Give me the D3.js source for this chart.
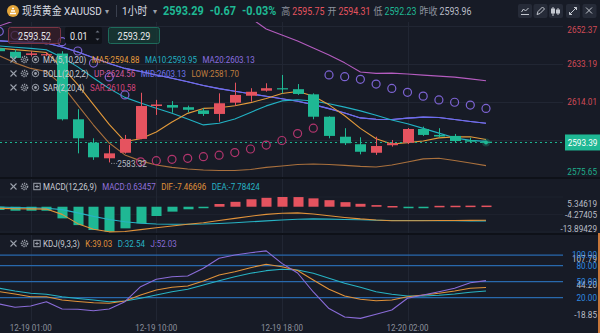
<!DOCTYPE html>
<html>
<head>
<meta charset="utf-8">
<script src="https://cdn.jsdelivr.net/npm/d3@7/dist/d3.min.js"></script>
<style>
  html, body { margin:0; padding:0; background:#171b26; overflow:hidden; }
  svg { display:block; }
  text { font-family: Roboto, "Noto Sans CJK SC", "Noto Sans", sans-serif; }
</style>
</head>
<body>
<svg id="chart" width="600" height="333"></svg>
<script>
// ---- hourly bars, XAUUSD ----
const times = ["12-18 23:00","12-19 00:00","12-19 01:00","12-19 02:00","12-19 03:00","12-19 04:00","12-19 05:00",
  "12-19 07:00","12-19 08:00","12-19 09:00","12-19 10:00","12-19 11:00","12-19 12:00","12-19 13:00","12-19 14:00",
  "12-19 15:00","12-19 16:00","12-19 17:00","12-19 18:00","12-19 19:00","12-19 20:00","12-19 21:00","12-19 22:00",
  "12-19 23:00","12-20 00:00","12-20 01:00","12-20 02:00","12-20 03:00","12-20 04:00","12-20 05:00","12-20 07:00","12-20 08:00"];
const timeTicks = ["12-19 01:00","12-19 10:00","12-19 18:00","12-20 02:00"];

const open  = [2641.0,2639.2,2637.6,2637.7,2638.3,2605.1,2593.3,2585.4,2588.2,2595.2,2611.8,2612.3,2611.2,2609.6,2607.8,2613.5,2617.0,2619.55,2620.8,2620.3,2617.7,2606.4,2596.3,2592.5,2588.2,2592.0,2593.3,2600.2,2597.2,2596.7,2594.5,2593.8];
const high  = [2642.5,2640.5,2639.5,2639.0,2639.5,2610.2,2595.5,2592.1,2597.2,2618.5,2614.9,2614.3,2612.0,2610.7,2618.2,2623.6,2620.8,2623.3,2627.5,2622.9,2618.2,2606.6,2600.6,2596.0,2596.3,2594.65,2600.7,2601.4,2600.6,2597.7,2595.8,2594.2];
const low   = [2638.8,2635.5,2636.8,2637.0,2604.5,2587.9,2584.6,2583.32,2587.8,2595.0,2607.3,2608.4,2608.6,2606.8,2603.9,2611.8,2614.0,2619.05,2618.2,2617.4,2605.1,2595.5,2592.1,2587.4,2587.1,2591.3,2592.6,2596.7,2596.0,2593.3,2593.1,2592.9];
const close = [2639.5,2636.1,2638.4,2638.0,2605.1,2595.5,2585.9,2587.9,2595.2,2611.8,2612.6,2611.0,2609.9,2607.8,2613.2,2617.4,2619.0,2620.8,2620.3,2617.9,2606.4,2596.7,2593.0,2588.7,2591.6,2593.0,2600.2,2597.2,2596.4,2594.1,2593.8,2593.39];

// moving averages
const ma5  = [2641.0,2640.3,2639.6,2638.8,2631.4,2622.6,2612.5,2602.5,2593.9,2595.3,2598.7,2603.7,2608.1,2610.6,2610.9,2611.9,2613.5,2615.6,2618.1,2619.1,2616.9,2612.4,2606.9,2600.5,2595.3,2592.6,2593.3,2594.1,2595.7,2596.2,2596.3,2594.88];
const ma10 = [2642.15,2641.46,2640.9,2640.2,2636.31,2631.56,2625.95,2620.64,2616.16,2613.34,2610.65,2608.14,2605.29,2602.27,2603.08,2605.27,2608.58,2611.87,2614.38,2614.99,2614.37,2612.94,2611.25,2609.34,2607.18,2604.74,2602.86,2600.5,2598.11,2595.73,2594.47,2593.95];
const ma20 = [2644.7,2644.3,2643.9,2643.6,2641.6,2639.1,2636.2,2633.3,2630.8,2629.2,2627.5,2625.8,2624.1,2622.2,2620.6,2619.3,2618.0,2616.7,2615.5,2614.2,2612.5,2610.5,2608.3,2605.8,2605.1,2605.0,2605.7,2606.2,2606.0,2605.0,2604.0,2603.13];

// Bollinger bands (20,2)
const bollUp  = [2652.2,2655.0,2657.0,2658.0,2660.8,2665.9,2670.2,2673.5,2674.5,2674.3,2673.0,2670.8,2668.2,2664.9,2661.9,2659.3,2656.3,2650.7,2647.7,2644.6,2641.1,2637.6,2633.6,2629.0,2628.3,2628.4,2628.0,2627.4,2626.9,2626.4,2625.5,2624.56];
const bollMid = [2644.7,2644.3,2643.9,2643.6,2641.6,2639.1,2636.2,2633.3,2630.8,2629.2,2627.5,2625.8,2624.1,2622.2,2620.6,2619.3,2618.0,2616.7,2615.5,2614.2,2612.5,2610.5,2608.3,2605.8,2605.1,2605.0,2605.7,2606.2,2606.0,2605.0,2604.0,2603.13];
const bollLow = [2637.2,2633.6,2630.8,2629.2,2622.4,2612.3,2602.2,2593.1,2587.1,2584.1,2582.0,2580.8,2580.0,2579.5,2579.25,2579.25,2579.75,2580.8,2581.5,2582.3,2582.5,2582.3,2581.8,2581.3,2581.0,2582.0,2583.5,2585.1,2585.4,2584.3,2583.0,2581.70];

// parabolic SAR
const sar = [2649.5,2647.5,2646.2,2645.2,2644.3,2639.6,2633.5,2626.5,2617.4,2583.6,2584.2,2584.9,2585.4,2586.2,2587.0,2588.3,2590.1,2592.1,2594.4,2597.9,2600.6,2627.5,2626.6,2625.3,2622.9,2620.7,2618.7,2616.8,2614.9,2613.7,2612.3,2610.58];

// MACD (12,26,9)
const macdHist = [-1.8,-2.2,-2.2,-2.2,-6.4,-10.1,-12.8,-13.7,-11.9,-9.1,-5.1,-2.7,-1.4,-0.7,1.5,2.7,4.1,4.9,5.34619,5.3,4.6,3.6,2.5,1.6,0.9,0.4,-0.3,-0.4,0.5,0.55,0.6,0.63457];
const dif = [-0.9,-1.1,-1.2,-1.3,-4.2,-9.3,-12.4,-13.8,-13.6,-12.6,-11.6,-10.6,-9.6,-8.8,-7.6,-6.4,-5.2,-4.2,-3.6,-3.4,-4.0,-5.0,-5.9,-6.7,-7.3,-7.7,-7.7,-7.7,-7.6,-7.55,-7.5,-7.46696];
const dea = [-0.2,-0.4,-0.6,-0.8,-1.6,-3.4,-5.3,-7.0,-8.3,-9.1,-9.5,-9.6,-9.6,-9.5,-9.2,-8.8,-8.3,-7.8,-7.3,-6.9,-6.7,-6.8,-7.0,-7.2,-7.4,-7.6,-7.6,-7.6,-7.7,-7.75,-7.77,-7.78424];

// KDJ (9,3,3)
const kLine = [31.3,26.9,21.9,21.9,15.7,12.9,10.6,9.5,13.8,25.1,34.4,39.5,41.9,51.3,62.6,68.8,76.3,82.7,78.2,71.0,53.2,35.8,23.2,17.0,14.4,15.7,21.9,25.1,28.3,32.6,37.6,39.03];
const dLine = [37.6,32.6,28.3,26.4,21.9,18.5,15.7,12.5,13.8,18.9,25.1,31.3,35.8,43.8,51.9,59.4,65.8,70.7,73.3,72.0,65.8,56.4,47.0,39.5,31.3,26.4,23.2,23.2,24.5,26.9,30.1,32.54];
const jLine = [8.2,2.0,4.4,12.5,-1.2,-1.8,-4.4,-1.2,12.5,40.6,54.5,59.4,60.7,75.2,93.9,100.1,104.4,107.79,84.4,66.3,30.7,-0.4,-16.2,-18.85,-11.1,-3.1,18.9,25.1,31.3,37.6,48.1,52.03];

// axis ticks / levels
const priceTicks = [2575.65,2594.83,2614.01,2633.19,2652.37];
const lastPrice = 2593.39;
const periodLow = 2583.32;
const macdTicks = [5.34619,-4.27405,-13.89429];
const kdjTicks = [107.79,44.20,-18.85];
const kdjLevels = [100,80,50,20];

// header quote
const quote = {name:"现货黄金 XAUUSD", period:"1小时", price:"2593.29", chg:"-0.67", pct:"-0.03%",
  high:"2595.75", open:"2594.31", low:"2592.23", prev:"2593.96"};

// ---- drawing ----
const C = {bg:'#171b26', up:'#e5535f', down:'#1fb894', grid:'#212633', text:'#c9ccd3', dim:'#8d929e',
  ma5:'#e39a3b', ma10:'#22b2c4', ma20:'#8b6fe0', bUp:'#b45cbf', bMid:'#6b6ef0', bLow:'#a9703d',
  sarAbove:'#7d63d3', sarBelow:'#b2356d', macd:'#9271dc', dif:'#e0923a', dea:'#27b3c4',
  k:'#e0923a', d:'#27b3c4', j:'#8a6cd8', level:'#2869ad', levelTxt:'#2f8ae0', icon:'#9ca1ac'};

const svg = d3.select('#chart');
svg.append('rect').attr('width',600).attr('height',333).attr('fill',C.bg);

const x = d3.scalePoint().domain(times).range([-0.7, 486]);
const bw = x.step()*0.7;
const yMain = d3.scaleLinear().domain([2575.65, 2652.37]).range([177.6, 25.7]);
const yMacd = d3.scaleLinear().domain([-13.89429, 5.34619]).range([232, 197]);
const yKdj  = d3.scaleLinear().domain([-18.85, 107.79]).range([318.4, 250.9]);
const plotRight = 563;

const defs = svg.append('defs');
function clip(id, y0, y1){ defs.append('clipPath').attr('id',id).append('rect').attr('x',0).attr('y',y0).attr('width',plotRight).attr('height',y1-y0); return `url(#${id})`; }
const mainG = svg.append('g').attr('clip-path', clip('cMain',22,177));
const macdG = svg.append('g').attr('clip-path', clip('cMacd',179,233));
const kdjG  = svg.append('g').attr('clip-path', clip('cKdj',235,321));

function label(parent, px, py, str, o={}) {
  return parent.append('text')
    .attr('transform', `translate(${px},${py}) scale(${o.sx ?? 0.86},1)`)
    .attr('font-size', o.size ?? 9.5)
    .attr('font-weight', o.weight ?? 400)
    .attr('fill', o.fill ?? C.text)
    .attr('text-anchor', o.anchor ?? 'start')
    .attr('dominant-baseline', 'central')
    .text(str);
}
function run(parent, px, py, items, gap) {
  let cx = px;
  items.forEach(it => {
    const t = label(parent, cx, py, it.text, it);
    cx += t.node().getComputedTextLength()*(it.sx ?? 0.86) + (it.gap ?? gap);
  });
  return cx;
}

// grid
const gridG = svg.insert('g', 'g');
gridG.selectAll('line.h').data(priceTicks).join('line')
  .attr('x1',0).attr('x2',plotRight).attr('y1',d=>Math.round(yMain(d))+0.5).attr('y2',d=>Math.round(yMain(d))+0.5)
  .attr('stroke',C.grid).attr('stroke-width',1);
gridG.selectAll('line.v').data(timeTicks).join('line')
  .attr('x1',d=>Math.round(x(d))+0.5).attr('x2',d=>Math.round(x(d))+0.5).attr('y1',22).attr('y2',321)
  .attr('stroke',C.grid).attr('stroke-width',1);
gridG.selectAll('line.m').data(macdTicks).join('line')
  .attr('x1',0).attr('x2',plotRight).attr('y1',d=>yMacd(d)).attr('y2',d=>yMacd(d))
  .attr('stroke',C.grid).attr('stroke-width',1).attr('opacity',0.6);

// pane separators
[177, 233].forEach(yy => svg.append('rect').attr('x',0).attr('y',yy).attr('width',600).attr('height',2).attr('fill','#0e1118'));
svg.append('rect').attr('x',598).attr('y',233).attr('width',2).attr('height',100).attr('fill','#c9773a');

// ---- main pane ----
const lineMain = arr => d3.line().x((d,i)=>x(times[i])).y(d=>yMain(d))(arr);
function path(g, d, color, w=1.1){ g.append('path').attr('d',d).attr('fill','none').attr('stroke',color).attr('stroke-width',w).attr('stroke-linejoin','round'); }

path(mainG, lineMain(bollUp), C.bUp);
path(mainG, lineMain(bollLow), C.bLow);
path(mainG, lineMain(ma20), C.ma20);
path(mainG, lineMain(bollMid), C.bMid);
path(mainG, lineMain(ma10), C.ma10);
path(mainG, lineMain(ma5), C.ma5);

// price line
mainG.append('line').attr('x1',0).attr('x2',plotRight).attr('y1',yMain(lastPrice)).attr('y2',yMain(lastPrice))
  .attr('stroke',C.down).attr('stroke-width',1).attr('stroke-dasharray','2,3');

// candles
const candles = times.map((t,i)=>({t, o:open[i], h:high[i], l:low[i], c:close[i]}));
const colorOf = d => d.c >= d.o ? C.up : C.down;
mainG.selectAll('line.wick').data(candles).join('line')
  .attr('x1',d=>Math.round(x(d.t))+0.5).attr('x2',d=>Math.round(x(d.t))+0.5)
  .attr('y1',d=>yMain(d.h)).attr('y2',d=>yMain(d.l)).attr('stroke',colorOf).attr('stroke-width',1);
mainG.selectAll('rect.body').data(candles).join('rect')
  .attr('x',d=>Math.round(x(d.t))+0.5-bw/2).attr('width',bw)
  .attr('y',d=>yMain(Math.max(d.o,d.c)))
  .attr('height',d=>Math.max(1.2, Math.abs(yMain(d.o)-yMain(d.c))))
  .attr('fill',colorOf);

// SAR dots
mainG.selectAll('circle.sar').data(sar).join('circle')
  .attr('cx',(d,i)=>x(times[i])).attr('cy',d=>yMain(d)).attr('r',4)
  .attr('fill','none').attr('stroke-width',1.2)
  .attr('stroke',(d,i)=> d > close[i] ? C.sarAbove : C.sarBelow);

// last point marker
const lx = x(times[times.length-1]), ly = yMain(lastPrice);
mainG.append('circle').attr('cx',lx).attr('cy',ly).attr('r',4).attr('fill',C.down).attr('opacity',0.25);
mainG.append('circle').attr('cx',lx).attr('cy',ly).attr('r',2).attr('fill',C.down);

// period low marker
const lowIdx = low.indexOf(periodLow);
const lowX = x(times[lowIdx]), lowY = yMain(periodLow);
svg.append('line').attr('x1',lowX+2).attr('x2',lowX+8).attr('y1',lowY+1).attr('y2',lowY+1)
  .attr('stroke','#9aa0ab').attr('stroke-dasharray','1,1.5');
label(svg, lowX+8, lowY+1.5, periodLow.toFixed(2), {fill:'#b4b8c2', size:9.5, sx:0.86});

// right price axis (the tick under the last-price tag is covered by it)
priceTicks.filter(t => Math.abs(yMain(t) - yMain(lastPrice)) > 9).forEach(t => {
  const yy = Math.min(172, Math.max(30, yMain(t)));
  label(svg, 597, yy, t.toFixed(2), {anchor:'end', fill: t > lastPrice ? '#d24b57' : '#1fae8b', size:9.5, sx:0.86});
});
svg.append('rect').attr('x',565).attr('y',ly-8).attr('width',35).attr('height',16).attr('fill',C.down);
label(svg, 582.5, ly, lastPrice.toFixed(2), {anchor:'middle', fill:'#ffffff', size:9.5, sx:0.86});

// ---- MACD pane ----
const macdBars = times.map((t,i)=>({t, v:macdHist[i]}));
macdG.selectAll('rect.h').data(macdBars).join('rect')
  .attr('x',d=>Math.round(x(d.t))+0.5-x.step()*0.32).attr('width',x.step()*0.64)
  .attr('y',d=> d.v>=0 ? yMacd(d.v) : yMacd(0))
  .attr('height',d=>Math.max(1.5, Math.abs(yMacd(d.v)-yMacd(0))))
  .attr('fill',d=> d.v>=0 ? C.up : C.down);
const lineMacd = arr => d3.line().x((d,i)=>x(times[i])).y(d=>yMacd(d))(arr);
path(macdG, lineMacd(dea), C.dea);
path(macdG, lineMacd(dif), C.dif);
macdTicks.forEach(t => {
  const yy = Math.min(228.5, Math.max(203.3, yMacd(t)));
  label(svg, 597, yy, t.toFixed(5), {anchor:'end', fill:'#b9bdc6', size:9.5, sx:0.86});
});

// ---- KDJ pane ----
kdjG.selectAll('line.lv').data(kdjLevels).join('line')
  .attr('x1',0).attr('x2',571).attr('y1',d=>yKdj(d)).attr('y2',d=>yKdj(d))
  .attr('stroke',C.level).attr('stroke-width',1.3);
const lineKdj = arr => d3.line().x((d,i)=>x(times[i])).y(d=>yKdj(d))(arr);
path(kdjG, lineKdj(dLine), C.d);
path(kdjG, lineKdj(kLine), C.k);
path(kdjG, lineKdj(jLine), C.j);
kdjTicks.forEach(t => {
  const yy = Math.min(315, Math.max(259, yKdj(t)));
  label(svg, 597, yy, t.toFixed(2), {anchor:'end', fill:'#b9bdc6', size:9.5, sx:0.86});
});
kdjLevels.forEach(t => label(svg, 597, yKdj(t), t.toFixed(2), {anchor:'end', fill:C.levelTxt, size:9.5, sx:0.86}));

// time axis
timeTicks.forEach(t => label(svg, x(t), 328, t, {anchor:'middle', fill:C.dim, size:9.5, sx:0.84}));

// ---- legends ----
function iconX(cx, cy){ const g=svg.append('g').attr('stroke',C.icon).attr('stroke-width',1.1);
  g.append('line').attr('x1',cx-3).attr('y1',cy-3).attr('x2',cx+3).attr('y2',cy+3);
  g.append('line').attr('x1',cx-3).attr('y1',cy+3).attr('x2',cx+3).attr('y2',cy-3); }
function iconGear(cx, cy){ const g=svg.append('g').attr('fill','none').attr('stroke',C.icon);
  g.append('circle').attr('cx',cx).attr('cy',cy).attr('r',3).attr('stroke-width',1.6).attr('stroke-dasharray','1.3,0.9');
  g.append('circle').attr('cx',cx).attr('cy',cy).attr('r',1.2).attr('stroke-width',0.9); }
function iconEye(cx, cy){ const g=svg.append('g').attr('fill','none').attr('stroke',C.icon);
  g.append('circle').attr('cx',cx).attr('cy',cy).attr('r',3.2).attr('stroke-width',1);
  g.append('circle').attr('cx',cx).attr('cy',cy).attr('r',1.4).attr('fill',C.icon).attr('stroke','none'); }
function iconPlus(cx, cy){ const g=svg.append('g').attr('fill','none').attr('stroke',C.icon).attr('stroke-width',1);
  g.append('rect').attr('x',cx-3.2).attr('y',cy-3.2).attr('width',6.4).attr('height',6.4);
  g.append('line').attr('x1',cx-1.8).attr('x2',cx+1.8).attr('y1',cy).attr('y2',cy);
  g.append('line').attr('x1',cx).attr('x2',cx).attr('y1',cy-1.8).attr('y2',cy+1.8); }

const legendRows = [
  {y:59.5, third:'eye', items:[{text:'MA(5,10,20)'},{text:'MA5:'+ma5[ma5.length-1].toFixed(2),fill:C.ma5},{text:'MA10:'+ma10[ma10.length-1].toFixed(2),fill:C.ma10},{text:'MA20:'+ma20[ma20.length-1].toFixed(2),fill:C.ma20}]},
  {y:73.5, third:'eye', items:[{text:'BOLL(20,2,2)'},{text:'UP:'+bollUp[bollUp.length-1].toFixed(2),fill:'#cf5a9e'},{text:'MID:'+bollMid[bollMid.length-1].toFixed(2),fill:'#6f74ea'},{text:'LOW:'+bollLow[bollLow.length-1].toFixed(2),fill:'#c07f3f'}]},
  {y:87.5, third:'eye', items:[{text:'SAR(2,20,4)'},{text:'SAR:'+sar[sar.length-1].toFixed(2),fill:'#d3437c'}]},
  {y:186.5, third:'plus', items:[{text:'MACD(12,26,9)'},{text:'MACD:'+macdHist[macdHist.length-1].toFixed(5),fill:C.macd},{text:'DIF:'+dif[dif.length-1].toFixed(5),fill:C.dif},{text:'DEA:'+dea[dea.length-1].toFixed(5),fill:C.dea}]},
  {y:243.5, third:'plus', items:[{text:'KDJ(9,3,3)'},{text:'K:'+kLine[kLine.length-1].toFixed(2),fill:C.k},{text:'D:'+dLine[dLine.length-1].toFixed(2),fill:C.d},{text:'J:'+jLine[jLine.length-1].toFixed(2),fill:C.j}]}
];
legendRows.forEach(r => {
  iconX(13.5, r.y); iconGear(24.5, r.y);
  if (r.third==='eye') iconEye(35.5, r.y); else iconPlus(37, r.y);
  run(svg, 43, r.y, r.items.map(it=>Object.assign({size:9.5, sx:0.84}, it)), 5.5);
});

// ---- order panel ----
const panel = svg.append('g');
panel.append('rect').attr('x',8.5).attr('y',27.5).attr('width',52).attr('height',16).attr('rx',2)
  .attr('fill','#3a1f2a').attr('fill-opacity',0.75).attr('stroke','#7a3443');
label(panel, 34.5, 36, '2593.52', {anchor:'middle', fill:'#e6e7ea', size:10.5, sx:0.86});
panel.append('rect').attr('x',65).attr('y',27).attr('width',37).attr('height',17).attr('rx',2).attr('fill','#0f1219');
label(panel, 70, 36, '0.01', {fill:'#e6e7ea', size:10.5, sx:0.86});
panel.append('path').attr('d','M95.5,32.5 l2,-2 l2,2 Z M95.5,38.5 l2,2 l2,-2 Z').attr('fill','#6c7280');
panel.append('rect').attr('x',108.5).attr('y',27.5).attr('width',51).attr('height',16).attr('rx',2)
  .attr('fill','#173a35').attr('fill-opacity',0.8).attr('stroke','#1e6b5b');
label(panel, 134, 36, '2593.29', {anchor:'middle', fill:'#e6e7ea', size:10.5, sx:0.86});

// ---- header ----
const hdr = svg.append('g');
hdr.append('circle').attr('cx',13).attr('cy',11).attr('r',6).attr('fill','#e3a53b');
hdr.append('path').attr('d','M10,13.5 h6 M11,11 h4 M12,8.5 h2').attr('stroke','#fff').attr('stroke-width',1.4);
let hx = run(hdr, 22, 11, [{text:quote.name, fill:'#dadce2', size:11.5, sx:0.86}], 3);
label(hdr, hx, 11, '▾', {fill:'#9aa0ab', size:8, sx:1});
hdr.append('line').attr('x1',116.5).attr('x2',116.5).attr('y1',5).attr('y2',17).attr('stroke','#3a404e');
hx = run(hdr, 122, 11, [{text:quote.period, fill:'#dadce2', size:11.5, sx:0.86}], 5);
label(hdr, hx+1, 11, '▾', {fill:'#9aa0ab', size:8, sx:1});
run(hdr, 163, 11, [
  {text:quote.price, fill:C.down, size:13, weight:700, sx:0.84, gap:6},
  {text:quote.chg, fill:C.down, size:13, weight:700, sx:0.84, gap:6},
  {text:quote.pct, fill:C.down, size:13, weight:700, sx:0.84, gap:5},
  {text:'高', fill:C.dim, size:10, sx:0.9, gap:2},
  {text:quote.high, fill:C.up, size:10.5, sx:0.84, gap:3},
  {text:'开', fill:C.dim, size:10, sx:0.9, gap:2},
  {text:quote.open, fill:C.up, size:10.5, sx:0.84, gap:3},
  {text:'低', fill:C.dim, size:10, sx:0.9, gap:2},
  {text:quote.low, fill:C.down, size:10.5, sx:0.84, gap:3},
  {text:'昨收', fill:C.dim, size:10, sx:0.9, gap:2},
  {text:quote.prev, fill:'#b9bdc6', size:10.5, sx:0.84, gap:3}
], 4);

// toolbar buttons
const btnX = [518, 533.5, 549, 566, 582.5];
btnX.forEach(bx => hdr.append('rect').attr('x',bx).attr('y',4).attr('width',14).attr('height',14).attr('rx',2).attr('fill','#262b38'));
const ig = hdr.append('g').attr('stroke','#c3c7cf').attr('stroke-width',1).attr('fill','none');
ig.append('path').attr('d','M521,14.5 h8 M521.5,12 l2,-3 l2,2 l3,-3');
ig.append('path').attr('d','M537,14.5 l1,-3 l4.5,-4.5 l2,2 l-4.5,4.5 Z');
ig.append('path').attr('d','M553,7 v9 M558,8 v7');
ig.append('rect').attr('x',551.5).attr('y',9).attr('width',3).attr('height',4).attr('fill','#c3c7cf');
ig.append('rect').attr('x',556.5).attr('y',10).attr('width',3).attr('height',3).attr('fill','#c3c7cf');
ig.append('path').attr('d','M569.5,14.5 l7,-7 M569.5,14.5 v-2.5 M569.5,14.5 h2.5 M576.5,7.5 h-2.5 M576.5,7.5 v2.5');
ig.append('path').attr('d','M586,7.5 l6,6 M592,7.5 l-6,6');
</script>
</body>
</html>
